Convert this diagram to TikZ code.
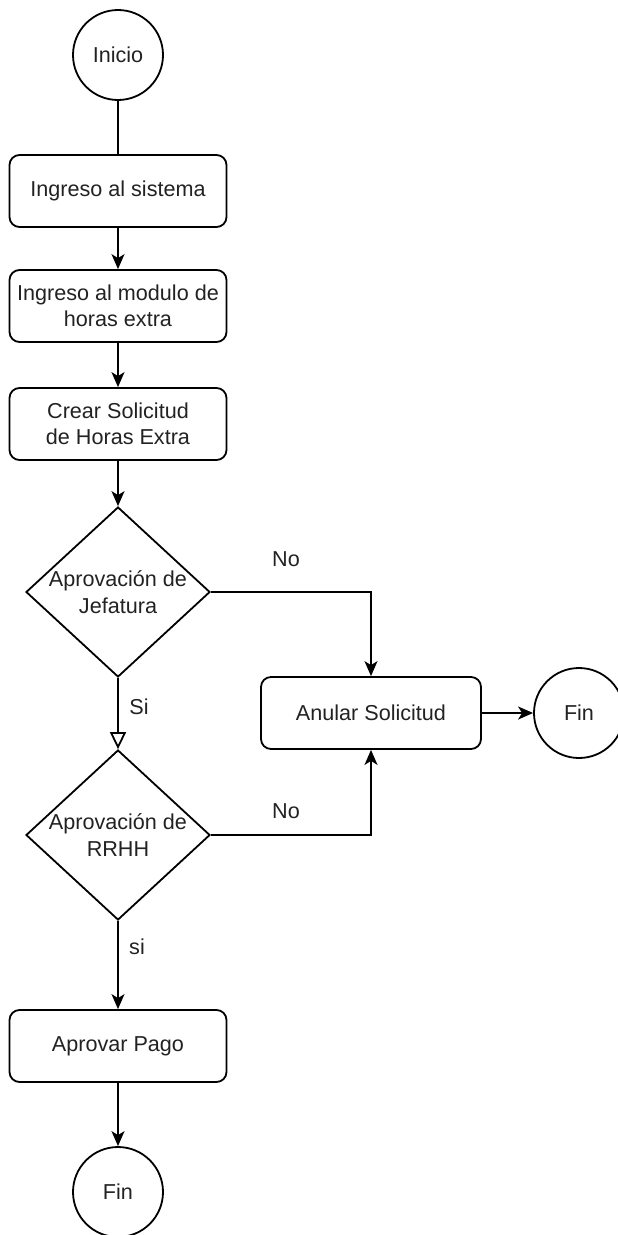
\documentclass[tikz,border=0pt]{standalone}
\usepackage{fontspec}
\setmainfont{Liberation Sans}
\usetikzlibrary{shapes.geometric,arrows.meta}
\definecolor{txt}{HTML}{222222}
\begin{document}
\begin{tikzpicture}[x=1pt,y=-1pt,
  every node/.style={font=\fontsize{21.6}{26.5}\selectfont, text=txt},
  proc/.style={draw, rounded corners=10pt, minimum width=217pt, minimum height=72pt, align=center, line width=1.8pt, inner sep=0pt},
  term/.style={draw, circle, minimum size=90pt, inner sep=0pt, line width=1.8pt},
  dec/.style={draw, diamond, minimum width=184pt, minimum height=170pt, inner sep=0pt, line width=1.8pt},
  conn/.style={line width=1.8pt, -{Stealth[length=15pt,width=13pt,inset=4pt]}},
  hollow/.style={line width=1.8pt, -{Triangle[open,length=17pt,width=16pt]}},
  lab/.style={inner sep=0pt}
]
\useasboundingbox (0,0) rectangle (618,1235);
\node[term] (ini) at (118,55) {Inicio};
\node[proc] (b1) at (118,191) {Ingreso al sistema};
\node[proc] (b2) at (118,306) {Ingreso al modulo de\\horas extra};
\node[proc] (b3) at (118,424) {Crear Solicitud\\de Horas Extra};
\node[dec, label={[align=center,inner sep=0pt]center:Aprovación de\\Jefatura}] (d1) at (118,592) {};
\node[proc, minimum width=220pt] (an) at (371,713) {Anular Solicitud};
\node[term] (fin1) at (579,713) {Fin};
\node[dec, label={[align=center,inner sep=0pt]center:Aprovación de\\RRHH}] (d2) at (118,835) {};
\node[proc] (pago) at (118,1046) {Aprovar Pago};
\node[term] (fin2) at (118,1192) {Fin};

\draw[line width=1.8pt] (ini) -- (b1);
\draw[conn] (b1) -- (b2);
\draw[conn] (b2) -- (b3);
\draw[conn] (b3) -- (d1.north);
\draw[conn] (d1.east) -| (an.north);
\draw[hollow] (d1.south) -- (d2.north);
\draw[conn] (d2.east) -| (an.south);
\draw[conn] (d2.south) -- (pago);
\draw[conn] (pago) -- (fin2);
\draw[conn] (an) -- (fin1);

\node[lab] (no1) at (286,559) {No};
\node[lab] (no2) at (286,811) {No};
\node[lab] (si1) at (139,707) {Si};
\node[lab] (si2) at (137,947) {si};
\end{tikzpicture}
\end{document}
